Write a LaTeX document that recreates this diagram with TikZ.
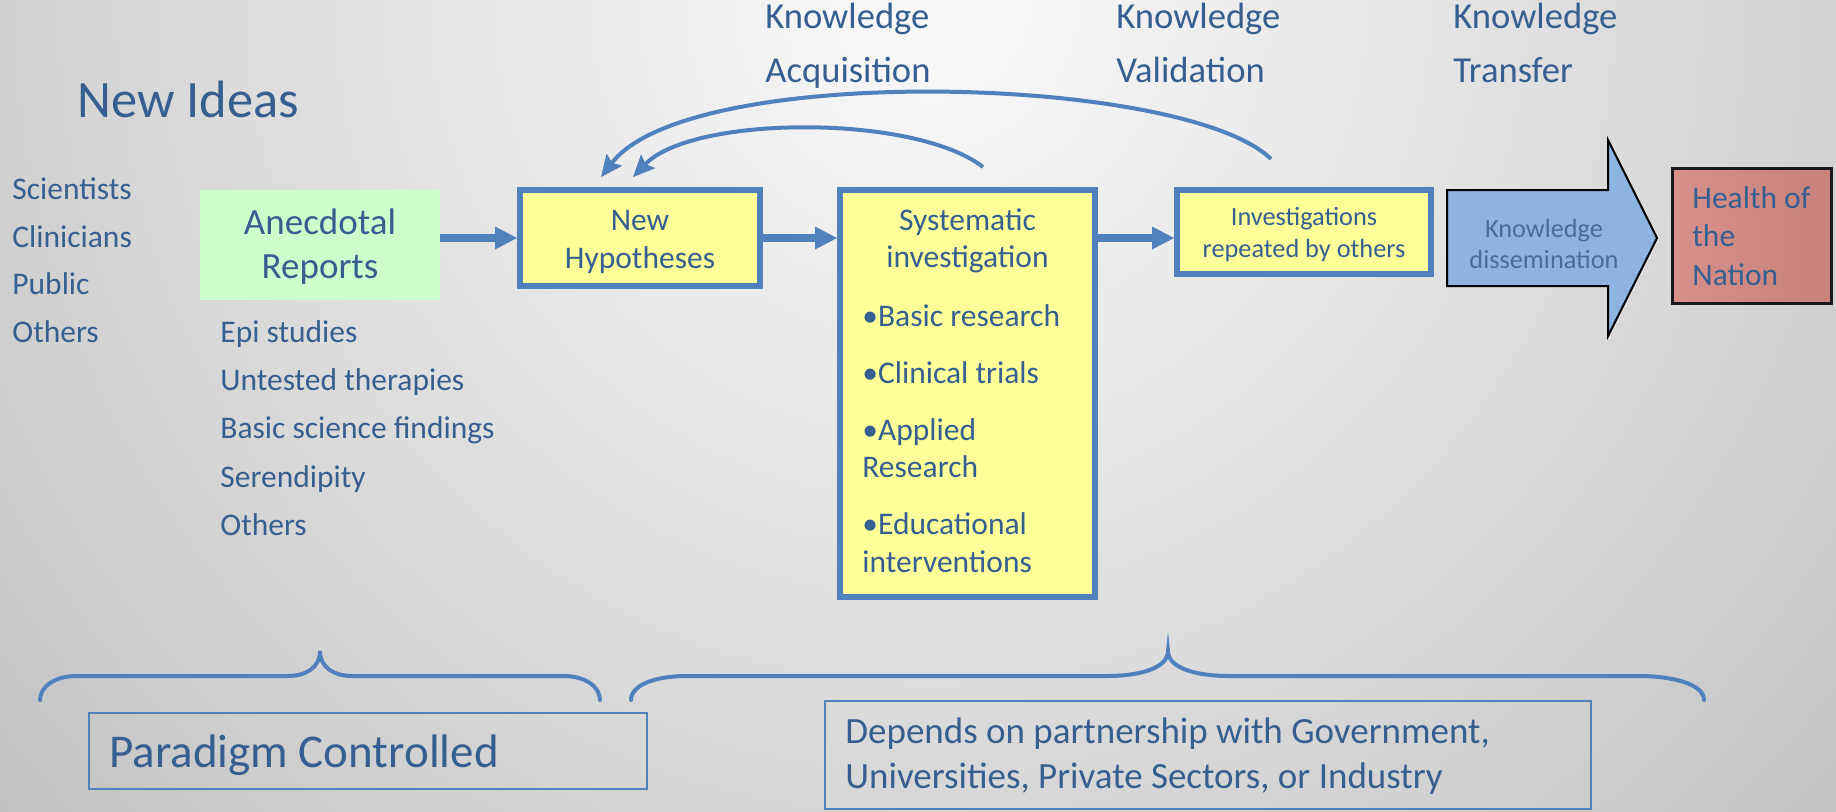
\documentclass[tikz,border=0pt]{standalone}
\usepackage{fontspec}
\setmainfont{Carlito}
\usetikzlibrary{arrows.meta,calc}

\definecolor{txtblue}{HTML}{365F91}
\definecolor{lineblue}{HTML}{4F81BD}
\definecolor{hypyellow}{HTML}{FFFF99}
\definecolor{anecgreen}{HTML}{CCFFCC}
\definecolor{arrowblue}{HTML}{8DB3E2}
\definecolor{dissemtxt}{HTML}{4A6C9A}
\definecolor{healthA}{HTML}{D8908A}
\definecolor{healthB}{HTML}{C6827A}
\definecolor{bgA}{rgb}{0.98,0.98,0.98}
\definecolor{bgB}{rgb}{0.88,0.88,0.88}
\definecolor{bgC}{rgb}{0.77,0.77,0.77}
\definecolor{bgD}{rgb}{0.64,0.64,0.64}
\definecolor{bgE}{rgb}{0.55,0.55,0.55}
\definecolor{bgF}{rgb}{0.50,0.50,0.50}

% soft grey backdrop, brightest at the top centre
\pgfdeclareradialshading{slidebg}{\pgfpoint{0bp}{0bp}}{%
  color(0bp)=(bgA); color(12bp)=(bgB); color(24bp)=(bgC);
  color(34bp)=(bgD); color(44bp)=(bgE); color(50bp)=(bgF)}

\begin{document}
\begin{tikzpicture}[x=0.5pt,y=-0.5pt,
  txt/.style={inner sep=0pt, text=txtblue},
  anecbox/.style={fill=anecgreen, inner sep=0pt},
  hbox/.style={draw=lineblue, line width=3pt, fill=hypyellow, inner sep=0pt},
  notebox/.style={draw=lineblue, line width=1pt, inner sep=0pt},
  flow/.style={draw=lineblue, line width=4pt,
    -{Triangle[length=11pt,width=11.5pt,line width=0pt]}},
  loopback/.style={draw=lineblue, line width=2pt,
    -{Stealth[length=11pt,width=10pt,inset=2pt,line width=0pt]}},
  brace/.style={draw=lineblue, line width=2pt, line cap=round}]

\useasboundingbox (0,0) rectangle (1836,811);
\begin{scope}
  \clip (0,0) rectangle (1836,811);
  \shade[shading=slidebg] (930,0) circle[radius=625pt];
\end{scope}

% headings
\node[txt, font=\fontsize{26.25}{31}\selectfont, anchor=base west] (newideas) at (77,117) {New Ideas};
\node[txt, font=\fontsize{18.3}{27}\selectfont, anchor=north west, align=left] (kacq) at (765,-9.8) {\strut Knowledge\\Acquisition};
\node[txt, font=\fontsize{18.3}{27}\selectfont, anchor=north west, align=left] (kval) at (1116,-9.8) {\strut Knowledge\\Validation};
\node[txt, font=\fontsize{18.3}{27}\selectfont, anchor=north west, align=left] (ktra) at (1453,-9.8) {\strut Knowledge\\Transfer};

% sources
\node[txt, font=\fontsize{15.75}{23.85}\selectfont, anchor=north west, align=left] (who) at (12,165.6)
  {\strut Scientists\\Clinicians\\Public\\Others};
\node[txt, font=\fontsize{15.75}{24.1}\selectfont, anchor=north west, align=left] (what) at (220,308.3)
  {\strut Epi studies\\Untested therapies\\Basic science findings\\Serendipity\\Others};

% boxes of the pipeline
\node[anecbox, minimum width=120pt, minimum height=55pt] (anec) at (320,245) {};
\node[txt, font=\fontsize{18.5}{22}\selectfont, anchor=north, align=center] (anectxt) at (320,203.2)
  {\strut Anecdotal\\Reports};

\node[hbox, minimum width=120pt, minimum height=48pt] (nh) at (640,238) {};
\node[txt, font=\fontsize{15.75}{19}\selectfont, anchor=north, align=center] (nhtxt) at (640,203.4)
  {\strut New\\Hypotheses};

\node[hbox, minimum width=127.5pt, minimum height=203.5pt] (sys) at (967.5,393.5) {};
\node[txt, font=\fontsize{15.75}{18.5}\selectfont, anchor=north, align=center] (systxt) at (967.5,204.1)
  {\strut Systematic\\investigation};
\node[txt, font=\fontsize{15.75}{18.75}\selectfont, anchor=north west, align=left] (syslist) at (862,299.75)
  {\strut •Basic research\\[9.75pt]•Clinical trials\\[9.75pt]•Applied\\Research\\[9.75pt]•Educational\\interventions};

\node[hbox, minimum width=127pt, minimum height=42pt] (inv) at (1304,232) {};
\node[txt, font=\fontsize{13.15}{16}\selectfont, anchor=north, align=center] (invtxt) at (1304,202.6)
  {\strut Investigations\\repeated by others};

% dissemination arrow
\draw[black, line width=1pt, fill=arrowblue, line join=miter]
  (1447,190) -- (1608,190) -- (1608,140) -- (1657,238) -- (1608,336) -- (1608,286) -- (1447,286) -- cycle;
\node[inner sep=0pt, text=dissemtxt, font=\fontsize{13.15}{15.5}\selectfont, anchor=north, align=center] (dis) at (1544,215.3)
  {\strut Knowledge\\dissemination};

\node[draw=black!90, line width=1.5pt, left color=healthA, right color=healthB, inner sep=0pt,
  minimum width=79.5pt, minimum height=67.5pt] (health) at (1752,236) {};
\node[txt, font=\fontsize{15.75}{19.25}\selectfont, anchor=north west, align=left] (healthtxt) at (1692,181)
  {\strut Health of\\the\\Nation};

% forward flow, all on the level of the hypotheses box
\draw[flow] (anec.east |- nh.west) -- (nh.west);
\draw[flow] (nh.east) -- (nh.east -| sys.west);
\draw[flow] (nh.east -| sys.east) -- (nh.east -| inv.west);

% feedback loops
\coordinate (sysout) at ($(sys.north)+(15.5,-20)$);
\coordinate (invout) at ($(inv.north)+(-33,-28)$);
\coordinate (nhin1) at ($(nh.north)+(-7,-10)$);
\coordinate (nhin2) at ($(nh.north)+(-39,-10)$);
\draw[loopback] (sysout) .. controls (915,114) and (693,115) .. (nhin1);
\draw[loopback] (invout) .. controls (1185,75) and (690,62) .. (nhin2);

% braces
\draw[brace] (40,700) .. controls (40,686) and (56,676) .. (76,676) -- (288,676)
  .. controls (305,676) and (320,668) .. (320,651)
  .. controls (320,668) and (335,676) .. (352,676) -- (564,676)
  .. controls (584,676) and (600,686) .. (600,700);
\draw[brace] (631,700) .. controls (631,685) and (655,676) .. (687,676) -- (1107,676)
  .. controls (1140,676) and (1168,668) .. (1168,651)
  .. controls (1168,668) and (1196,676) .. (1229,676) -- (1639,676)
  .. controls (1672,676) and (1704,684) .. (1704,700);

% notes under the braces
\node[notebox, minimum width=279pt, minimum height=38pt] (para) at (368,751) {};
\node[txt, font=\fontsize{23.5}{28}\selectfont, anchor=base west] (paratxt) at (109,767) {Paradigm Controlled};
\node[notebox, minimum width=383pt, minimum height=54pt] (dep) at (1208,755) {};
\node[txt, font=\fontsize{18.5}{22.5}\selectfont, anchor=north west, align=left] (deptxt) at (845,711.5)
  {\strut Depends on partnership with Government,\\Universities, Private Sectors, or Industry};
\end{tikzpicture}
\end{document}
